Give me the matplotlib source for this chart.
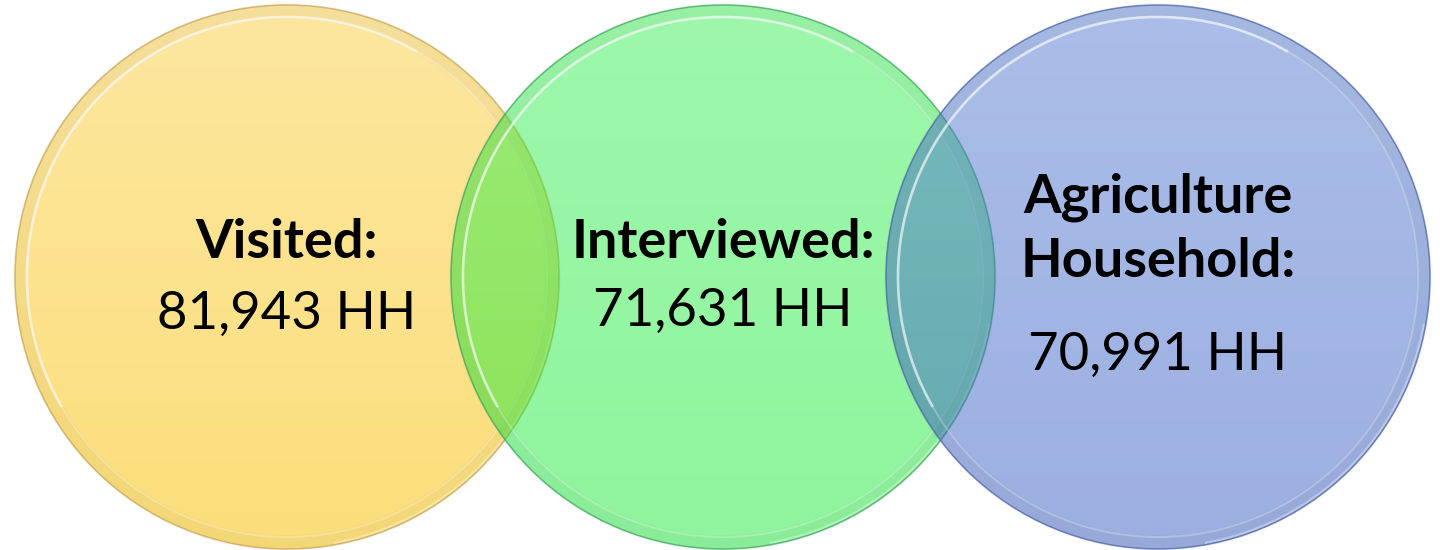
""" Three overlapping circles: household counts at each survey stage. """

import numpy as np
import matplotlib.pyplot as plt
from matplotlib.patches import Circle, Arc
from matplotlib.colors import to_rgb

# chart data
titles = ['Visited:', 'Interviewed:', 'Agriculture\nHousehold:']
counts = [81943, 71631, 70991]
unit = 'HH'

# layout (pixels, y grows downwards)
W, H = 1440, 550
centres_x = [287, 723, 1158]
centre_y = 277
radius = 272
title_y = [242, 243, 229]
count_y = [314, 311, 355]

# styles: top colour, bottom colour, alpha, edge colour
fills = [('#fde7a0', '#fbde7a', 1.0, '#c8a650'),
         ('#2df04b', '#0fe82d', 0.47, '#3aa85a'),
         ('#557dd2', '#375fc3', 0.5, '#4a64a8')]

plt.rcParams['font.family'] = ['Lato', 'DejaVu Sans']

fig = plt.figure(figsize=(W / 100, H / 100), dpi=100)
ax = fig.add_axes([0, 0, 1, 1])
ax.set_xlim(0, W)
ax.set_ylim(H, 0)
ax.set_aspect('equal')
ax.axis('off')

for i, (cx, (top, bottom, alpha, edge)) in enumerate(zip(centres_x, fills)):
    # vertical gradient clipped to the circle
    t = np.linspace(0, 1, 256)[:, None]
    grad = np.zeros((256, 1, 4))
    grad[..., :3] = (1 - t)[..., None] * np.array(to_rgb(top)) + t[..., None] * np.array(to_rgb(bottom))
    grad[..., 3] = alpha
    disc = Circle((cx, centre_y), radius, facecolor='none', edgecolor='none')
    ax.add_patch(disc)
    img = ax.imshow(grad, extent=(cx - radius, cx + radius, centre_y + radius, centre_y - radius),
                    interpolation='bilinear', zorder=1 + i)
    img.set_clip_path(disc)

    # bevel: darker outer band, bright inner line (strongest top-left), thin outline
    ax.add_patch(Circle((cx, centre_y), radius - 6, facecolor='none',
                        edgecolor='black', alpha=0.03, lw=11, zorder=1.1 + i))
    ax.add_patch(Circle((cx, centre_y), radius - 12, facecolor='none',
                        edgecolor='white', alpha=0.25, lw=1.5, zorder=1.2 + i))
    ax.add_patch(Arc((cx, centre_y), 2 * (radius - 12), 2 * (radius - 12),
                     theta1=150, theta2=300, edgecolor='white', alpha=0.55,
                     lw=2, zorder=1.25 + i))
    ax.add_patch(Arc((cx, centre_y), 2 * (radius - 2), 2 * (radius - 2),
                     theta1=10, theta2=80, edgecolor='white', alpha=0.35,
                     lw=1.5, zorder=1.25 + i))
    ax.add_patch(Circle((cx, centre_y), radius, facecolor='none',
                        edgecolor=edge, alpha=0.75, lw=1.1, zorder=1.3 + i))

for cx, title, count, ty, cy in zip(centres_x, titles, counts, title_y, count_y):
    ax.text(cx, ty, title, ha='center', va='center', fontsize=39,
            fontweight='bold', linespacing=1.38, zorder=10)
    ax.text(cx, cy, f'{count:,} {unit}', ha='center', va='center',
            fontsize=38, zorder=10)

fig.savefig('out.png', dpi=100, facecolor='white')
